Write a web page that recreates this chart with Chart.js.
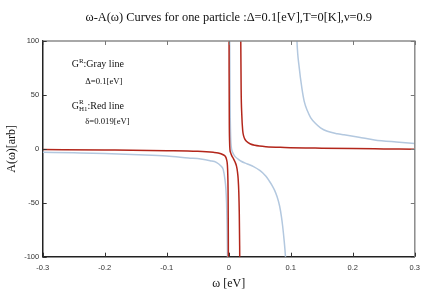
<!DOCTYPE html>
<html>
<head>
<meta charset="utf-8">
<script src="https://cdn.jsdelivr.net/npm/chart.js@4.4.0/dist/chart.umd.min.js"></script>
<style>
  html, body { margin: 0; padding: 0; background: #fff; }
</style>
</head>
<body>
<canvas id="chart" width="427" height="300"></canvas>
<script>
// values, one pair of arrays per branch (poles split the curves)
const grayW1 = [-0.30, -0.25, -0.20, -0.145, -0.10, -0.065, -0.045, -0.030, -0.020, -0.0125, -0.009, -0.0062, -0.0045, -0.0035, -0.0027, -0.0020, -0.0015];
const grayA1 = [-3.2, -3.7, -4.3, -5.4, -6.6, -8.5, -9.5, -11, -12.5, -16, -19, -28, -38, -50, -70, -100, -140];

const grayW2 = [0.0012, 0.0016, 0.0022, 0.0030, 0.0040, 0.0060, 0.0100, 0.0150, 0.0200, 0.030, 0.040, 0.050, 0.055, 0.060, 0.065, 0.070, 0.074, 0.078, 0.082, 0.085, 0.087, 0.0895, 0.0915, 0.093];
const grayA2 = [140, 90, 40, 12, 2, -3, -7, -9.5, -11.5, -14, -16.5, -20, -22.4, -25.5, -29.5, -34, -38.5, -44.5, -53, -63, -72, -86, -100, -115];

const grayW3 = [0.1085, 0.110, 0.1137, 0.118, 0.1217, 0.127, 0.132, 0.140, 0.148, 0.159, 0.175, 0.186, 0.210, 0.235, 0.270, 0.300];
const grayA3 = [130, 100, 75, 56, 44, 35, 29, 23.5, 19.5, 16.3, 14, 13, 10.8, 8.3, 6.3, 4.9];

const redW1 = [-0.30, -0.20, -0.10, -0.05, -0.025, -0.017, -0.009, -0.0055, -0.0035, -0.0022, -0.0015, -0.0010, -0.0007, -0.0005];
const redA1 = [-0.7, -1.1, -1.7, -2.3, -3.2, -3.8, -5.5, -7, -10, -15, -25, -45, -80, -130];

const redW2 = [0.0004, 0.0006, 0.0009, 0.0013, 0.0020, 0.0030, 0.0050, 0.0075, 0.0100, 0.0125, 0.0140, 0.0152, 0.0162, 0.0170, 0.0176, 0.0180];
const redA2 = [140, 70, 25, 8, -1, -3.5, -6.5, -9, -12, -16, -21, -28, -40, -60, -90, -130];

const redW3 = [0.0190, 0.0194, 0.0200, 0.0210, 0.0225, 0.0240, 0.0260, 0.0285, 0.035, 0.042, 0.060, 0.090, 0.150, 0.200, 0.250, 0.300];
const redA3 = [150, 100, 55, 32, 17, 12, 9, 7, 4.5, 3.3, 2, 1.3, 0.6, 0.2, -0.1, -0.4];

const xTicks = [-0.3, -0.2, -0.1, 0, 0.1, 0.2, 0.3];
const yTicks = [-100, -50, 0, 50, 100];

const GRAY = '#b3c8df';
const RED = '#b3261b';
const serif = '"Liberation Serif", "Times New Roman", serif';
const sans = '"Liberation Sans", Arial, sans-serif';

function branch(ws, as, color, order) {
    return {
        data: ws.map((w, i) => ({ x: w, y: as[i] })),
        borderColor: color,
        borderWidth: 1.5,
        pointRadius: 0,
        fill: false,
        cubicInterpolationMode: 'monotone',
        order: order
    };
}

// gnuplot style: ticks pointing inwards, gray top/right frame
const frame = {
    id: 'frame',
    afterDraw(chart) {
        const { ctx, chartArea: a, scales: { x, y } } = chart;
        ctx.save();
        ctx.strokeStyle = '#8c8c8c';
        ctx.lineWidth = 1.5;
        ctx.beginPath();
        ctx.moveTo(a.left, a.top);
        ctx.lineTo(a.right, a.top);
        ctx.lineTo(a.right, a.bottom);
        ctx.stroke();

        ctx.lineWidth = 1;
        x.ticks.forEach(t => {
            const px = Math.round(x.getPixelForValue(t.value)) + 0.5;
            ctx.strokeStyle = '#333';
            ctx.beginPath(); ctx.moveTo(px, a.bottom); ctx.lineTo(px, a.bottom - 4); ctx.stroke();
            ctx.strokeStyle = '#777';
            ctx.beginPath(); ctx.moveTo(px, a.top); ctx.lineTo(px, a.top + 4); ctx.stroke();
        });
        y.ticks.forEach(t => {
            const py = Math.round(y.getPixelForValue(t.value)) + 0.5;
            ctx.strokeStyle = '#333';
            ctx.beginPath(); ctx.moveTo(a.left, py); ctx.lineTo(a.left + 4, py); ctx.stroke();
            ctx.strokeStyle = '#777';
            ctx.beginPath(); ctx.moveTo(a.right, py); ctx.lineTo(a.right - 4, py); ctx.stroke();
        });
        ctx.restore();
    }
};

// the key written inside the plot
const notes = {
    id: 'notes',
    afterDatasetsDraw(chart) {
        const { ctx, chartArea: a } = chart;
        const big = '10px ' + serif, small = '7px ' + serif, mid = '8.7px ' + serif;
        ctx.save();
        ctx.fillStyle = '#111';
        ctx.textBaseline = 'alphabetic';

        let x = a.left + 29, y = a.top + 26;
        ctx.font = big; ctx.fillText('G', x, y); x += ctx.measureText('G').width;
        ctx.font = small; ctx.fillText('R', x, y - 4); x += ctx.measureText('R').width;
        ctx.font = big; ctx.fillText(':Gray line', x, y);

        ctx.font = mid; ctx.fillText('\u0394=0.1[eV]', a.left + 42.5, a.top + 43);

        x = a.left + 29; y = a.top + 68;
        ctx.font = big; ctx.fillText('G', x, y); x += ctx.measureText('G').width;
        ctx.font = small;
        ctx.fillText('R', x, y - 5);
        ctx.fillText('H1', x, y + 2);
        x += ctx.measureText('H1').width;
        ctx.font = big; ctx.fillText(':Red line', x, y);

        ctx.font = mid; ctx.fillText('\u03b4=0.019[eV]', a.left + 42.5, a.top + 83);
        ctx.restore();
    }
};

new Chart(document.getElementById('chart'), {
    type: 'line',
    data: {
        datasets: [
            branch(redW1, redA1, RED, 0),
            branch(redW2, redA2, RED, 0),
            branch(redW3, redA3, RED, 0),
            branch(grayW1, grayA1, GRAY, 1),
            branch(grayW2, grayA2, GRAY, 1),
            branch(grayW3, grayA3, GRAY, 1)
        ]
    },
    options: {
        responsive: false,
        animation: false,
        devicePixelRatio: 1,
        layout: { padding: { right: 8.7 } },
        plugins: {
            legend: { display: false },
            tooltip: { enabled: false },
            title: {
                display: true,
                fullSize: false,
                text: '\u03c9-A(\u03c9) Curves for one particle :\u0394=0.1[eV],T=0[K],\u03bd=0.9',
                color: '#111',
                font: { family: serif, size: 12.4, weight: 'normal' },
                padding: { top: 10, bottom: 16.1 }
            }
        },
        scales: {
            x: {
                type: 'linear',
                min: -0.3,
                max: 0.3,
                afterFit: s => { s.height = 43.3; },
                afterBuildTicks: s => { s.ticks = xTicks.map(v => ({ value: v })); },
                grid: { display: false, drawTicks: false, tickLength: 0 },
                border: { display: true, color: '#222', width: 1.5 },
                ticks: {
                    color: '#333',
                    padding: 7,
                    maxRotation: 0,
                    font: { family: sans, size: 7.5 },
                    callback: v => String(v)
                },
                title: {
                    display: true,
                    text: '\u03c9 [eV]',
                    color: '#111',
                    font: { family: serif, size: 12 },
                    padding: { top: 0, bottom: 9.3 }
                }
            },
            y: {
                type: 'linear',
                min: -100,
                max: 100,
                afterFit: s => { s.width = 42.7; },
                afterBuildTicks: s => { s.ticks = yTicks.map(v => ({ value: v })); },
                grid: { display: false, drawTicks: false, tickLength: 0 },
                border: { display: true, color: '#222', width: 1.5 },
                ticks: {
                    color: '#333',
                    padding: 3.5,
                    font: { family: sans, size: 7.5 },
                    callback: v => String(v)
                },
                title: {
                    display: true,
                    text: 'A(\u03c9)[arb]',
                    color: '#111',
                    font: { family: serif, size: 12 },
                    padding: { top: 5, bottom: 0 }
                }
            }
        }
    },
    plugins: [notes, frame]
});
</script>
</body>
</html>
